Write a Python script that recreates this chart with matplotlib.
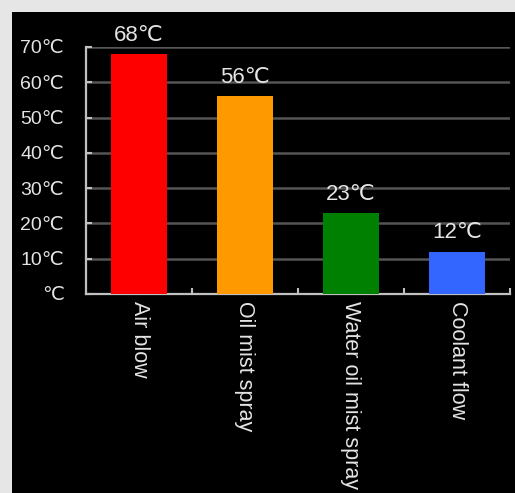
import matplotlib.pyplot as plt

# data
categories = ['Air blow', 'Oil mist spray', 'Water oil mist spray', 'Coolant flow']
temps = [68, 56, 23, 12]
colors = ['#ff0000', '#ff9900', '#008000', '#3366ff']
yticks = [0, 10, 20, 30, 40, 50, 60, 70]
ytick_labels = ['℃'] + [f'{v}℃' for v in yticks[1:]]

plt.rcParams['font.family'] = ['Liberation Sans', 'DejaVu Sans']
txt = '#e4e4e4'

fig = plt.figure(figsize=(5.15, 4.93), dpi=100, facecolor='#e6e6e6')
# black panel behind the chart
bg = fig.add_axes([12 / 515, 0, 1 - 12 / 515, 1 - 12 / 493], zorder=-1)
bg.set_facecolor('black')
bg.set_xticks([])
bg.set_yticks([])
for s in bg.spines.values():
    s.set_visible(False)

ax = fig.add_axes([86 / 515, 1 - 294 / 493, (510 - 86) / 515, (294 - 47) / 493])
ax.set_facecolor('none')

x = range(len(categories))
bars = ax.bar(x, temps, width=0.53, color=colors, zorder=3)

for xi, v in zip(x, temps):
    ax.annotate(f'{v}℃', (xi, v), xytext=(0, 6), textcoords='offset points',
                ha='center', va='bottom', color=txt, fontsize=16)

ax.set_xlim(-0.5, 3.5)
ax.set_ylim(0, 70)
ax.set_yticks(yticks)
ax.set_yticklabels(ytick_labels)
ax.yaxis.grid(True, color='#555555', linewidth=1.8, zorder=1)
ax.set_axisbelow(True)

ax.set_xticks(list(x))
ax.set_xticklabels(categories, rotation=270, ha='center', va='top')
ax.set_xticks([0.5, 1.5, 2.5, 3.5], minor=True)

ax.tick_params(axis='x', which='major', length=0, pad=5, colors=txt, labelsize=15.5)
ax.tick_params(axis='x', which='minor', direction='in', length=4, width=1.5, color='#c0c0c0')
ax.tick_params(axis='y', direction='in', length=4, width=1.5, color='#c0c0c0',
               labelcolor=txt, labelsize=14, pad=16)

for side in ['top', 'right']:
    ax.spines[side].set_visible(False)
for side in ['left', 'bottom']:
    ax.spines[side].set_color('#c0c0c0')
    ax.spines[side].set_linewidth(1.6)

fig.savefig('out.png', dpi=100, facecolor=fig.get_facecolor())
